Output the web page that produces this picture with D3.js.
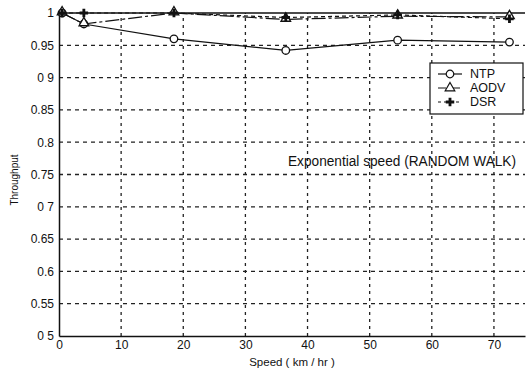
<!DOCTYPE html>
<html>
<head>
<meta charset="utf-8">
<script src="https://cdn.jsdelivr.net/npm/d3@7"></script>
<style>
  body { margin: 0; background: #fff; }
  text { font-family: "Liberation Sans", Arial, sans-serif; fill: #111; }
</style>
</head>
<body>
<svg id="chart" width="527" height="374"></svg>
<script>
// values
const speeds = [0.5, 4, 18.5, 36.5, 54.5, 72.5];
const ntp  = [1.0, 0.983, 0.960, 0.942, 0.958, 0.955];
const aodv = [1.0, 0.983, 1.0, 0.990, 0.995, 0.994];
const dsr  = [1.0, 1.0, 1.0, 0.993, 0.997, 0.991];
const xTicks = [0, 10, 20, 30, 40, 50, 60, 70];
const yTicks = [0.5, 0.55, 0.6, 0.65, 0.7, 0.75, 0.8, 0.85, 0.9, 0.95, 1];
const yTickLabels = ["0 5", "0.55", "0.6", "0.65", "0 7", "0.75", "0.8", "0.85", "0 9", "0.95", "1"];

const svg = d3.select("#chart");
const x = d3.scaleLinear().domain([0, 75]).range([59, 525]);
const y = d3.scaleLinear().domain([0.5, 1]).range([336, 13]);

// dashed grid
svg.append("g").selectAll("line.gx")
    .data(xTicks.slice(1))
    .join("line")
    .attr("x1", d => x(d)).attr("x2", d => x(d))
    .attr("y1", y(0.5)).attr("y2", y(1))
    .attr("stroke", "#222").attr("stroke-width", 1.3)
    .attr("stroke-dasharray", "3,4");
svg.append("g").selectAll("line.gy")
    .data(yTicks.slice(1, -1))
    .join("line")
    .attr("x1", x(0)).attr("x2", x(75))
    .attr("y1", d => y(d)).attr("y2", d => y(d))
    .attr("stroke", "#222").attr("stroke-width", 1.3)
    .attr("stroke-dasharray", "4,4");

// axes
const xAxis = svg.append("g")
    .attr("transform", `translate(0,${y(0.5)})`)
    .call(d3.axisBottom(x).tickValues(xTicks).tickSize(0).tickPadding(4));
xAxis.select(".domain").attr("stroke", "#111").attr("stroke-width", 1.5);
xAxis.selectAll("text").attr("font-size", 12);

const yAxis = svg.append("g")
    .attr("transform", `translate(${x(0)},0)`)
    .call(d3.axisLeft(y).tickValues(yTicks).tickSize(0).tickPadding(5)
        .tickFormat((d, i) => yTickLabels[i]));
yAxis.select(".domain").attr("stroke", "#111").attr("stroke-width", 1.5);
yAxis.selectAll("text").attr("font-size", 12);

// top border
svg.append("line")
    .attr("x1", x(0)).attr("x2", x(75))
    .attr("y1", y(1)).attr("y2", y(1))
    .attr("stroke", "#111").attr("stroke-width", 1.3);

// axis titles
svg.append("text")
    .attr("x", 292).attr("y", 366)
    .attr("text-anchor", "middle")
    .attr("font-size", 11.5)
    .text("Speed ( km / hr )");
svg.append("text")
    .attr("transform", "translate(18,180) rotate(-90)")
    .attr("text-anchor", "middle")
    .attr("font-size", 10)
    .text("Throughput");

// series
const line = d3.line().x((d, i) => x(speeds[i])).y(d => y(d));

svg.append("path").datum(aodv)
    .attr("d", line).attr("fill", "none")
    .attr("stroke", "#111").attr("stroke-width", 1.2)
    .attr("stroke-dasharray", "14,3,3,3");
svg.append("path").datum(dsr)
    .attr("d", line).attr("fill", "none")
    .attr("stroke", "#111").attr("stroke-width", 1.2)
    .attr("stroke-dasharray", "4,3");
svg.append("path").datum(ntp)
    .attr("d", line).attr("fill", "none")
    .attr("stroke", "#111").attr("stroke-width", 1.2);

const circleSym = d3.symbol().type(d3.symbolCircle).size(45);
const triSym = d3.symbol().type(d3.symbolTriangle).size(40);
const plusSym = d3.symbol().type(d3.symbolCross).size(40);

svg.append("g").selectAll("path")
    .data(ntp).join("path")
    .attr("transform", (d, i) => `translate(${x(speeds[i])},${y(d)})`)
    .attr("d", circleSym)
    .attr("fill", "#fff").attr("stroke", "#111").attr("stroke-width", 1.3);
svg.append("g").selectAll("path")
    .data(aodv).join("path")
    .attr("transform", (d, i) => `translate(${x(speeds[i])},${y(d) - 1})`)
    .attr("d", triSym)
    .attr("fill", "#fff").attr("stroke", "#111").attr("stroke-width", 1.3);
svg.append("g").selectAll("path")
    .data(dsr).join("path")
    .attr("transform", (d, i) => `translate(${x(speeds[i])},${y(d)})`)
    .attr("d", plusSym)
    .attr("fill", "#111");

// annotation
svg.append("text")
    .attr("x", 288).attr("y", 166)
    .attr("font-size", 14)
    .attr("textLength", 228)
    .attr("lengthAdjust", "spacingAndGlyphs")
    .text("Exponential speed (RANDOM WALK)");

// legend
const legend = svg.append("g").attr("transform", "translate(430,63)");
legend.append("rect")
    .attr("width", 93).attr("height", 51)
    .attr("fill", "#fff").attr("stroke", "#111").attr("stroke-width", 1.2);
const items = [
    { name: "NTP", sym: circleSym, dash: null, fill: "#fff" },
    { name: "AODV", sym: triSym, dash: "8,2,2,2", fill: "#fff" },
    { name: "DSR", sym: plusSym, dash: "3,3", fill: "#111" }
];
items.forEach((it, i) => {
    const cy = 11 + i * 14;
    legend.append("line")
        .attr("x1", 8).attr("x2", 32).attr("y1", cy).attr("y2", cy)
        .attr("stroke", "#111").attr("stroke-width", 1.2)
        .attr("stroke-dasharray", it.dash);
    legend.append("path")
        .attr("transform", `translate(20,${cy})`)
        .attr("d", it.sym)
        .attr("fill", it.fill)
        .attr("stroke", it.name === "DSR" ? "none" : "#111")
        .attr("stroke-width", 1.2);
    legend.append("text")
        .attr("x", 40).attr("y", cy)
        .attr("dy", "0.35em")
        .attr("font-size", 12.5)
        .text(it.name);
});
</script>
</body>
</html>
